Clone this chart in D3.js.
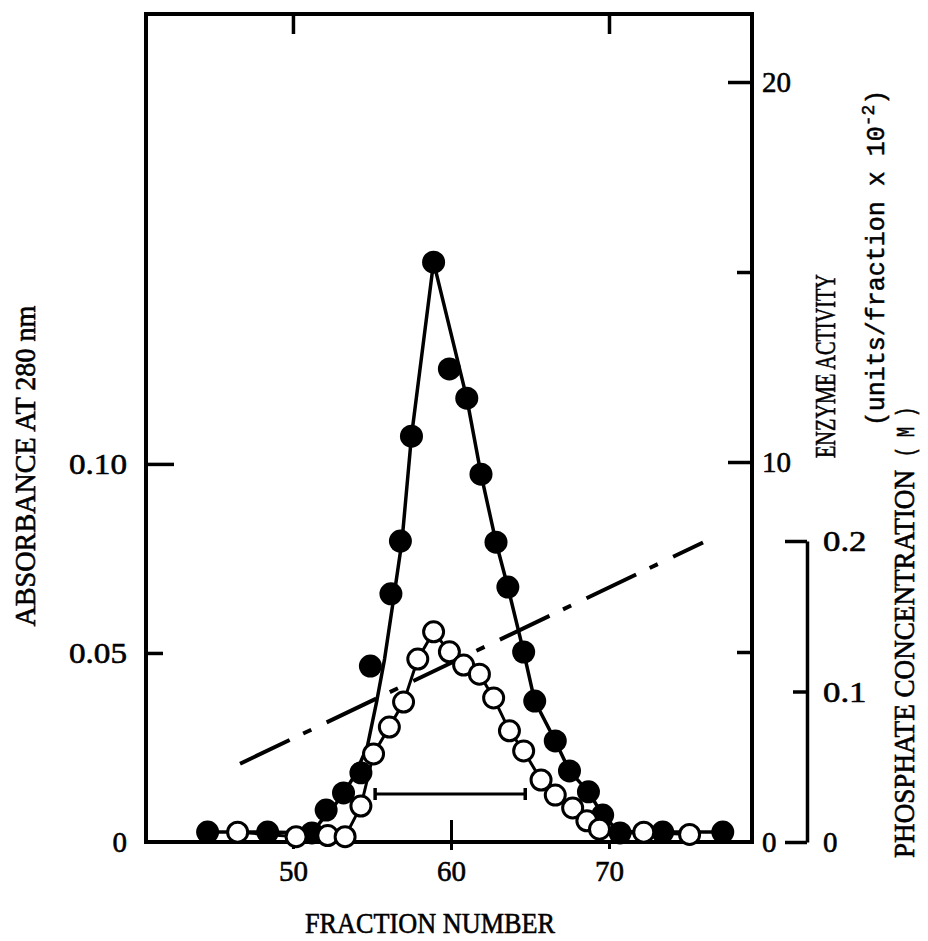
<!DOCTYPE html>
<html>
<head>
<meta charset="utf-8">
<script src="https://cdn.jsdelivr.net/npm/d3@7"></script>
<style>
body { margin: 0; background: #fff; }
svg { display: block; }
</style>
</head>
<body>
<section></section>
<script>
// Datos

// Circulos abiertos: absorbancia a 280 nm
var fraccionAbierta = [46.5, 50.2, 52.2, 53.3, 54.3, 55.1, 56.1, 57.0, 57.9, 58.9, 59.9, 60.8, 61.8, 62.7, 63.7, 64.6, 65.7, 66.6, 67.7, 68.6, 69.4, 72.2, 75.1]
var absorbancia = [0.0026, 0.0014, 0.0017, 0.0014, 0.0095, 0.0233, 0.0304, 0.0370, 0.0484, 0.0556, 0.0503, 0.0468, 0.0444, 0.0381, 0.0294, 0.0241, 0.0164, 0.0124, 0.0090, 0.0056, 0.0034, 0.0026, 0.0020]

// Circulos llenos: actividad enzimatica (units/fraction x 10^-2)
var fraccionLlena = [44.6, 48.4, 51.2, 52.1, 53.2, 54.3, 54.9, 56.2, 56.8, 57.5, 58.9, 59.9, 61.0, 61.9, 62.85, 63.6, 64.6, 65.3, 66.6, 67.5, 68.7, 69.6, 70.7, 73.4, 77.2]
var actividad = [0.26, 0.26, 0.24, 0.84, 1.29, 1.82, 4.63, 6.53, 7.92, 10.68, 15.26, 12.45, 11.68, 9.68, 7.89, 6.71, 5.0, 3.71, 2.66, 1.87, 1.32, 0.71, 0.24, 0.26, 0.26]

// Curva trazada a mano para la actividad
var curvaFraccion = [44.6, 48.4, 51.2, 52.1, 52.7, 53.2, 53.9, 54.7, 55.3, 55.8, 56.3, 56.9, 57.5, 58.9, 61.0, 61.9, 62.85, 63.6, 64.6, 65.3, 66.6, 67.5, 68.7, 69.6, 70.7, 73.4, 77.2]
var curvaActividad = [0.26, 0.26, 0.24, 0.72, 1.0, 1.28, 1.75, 2.5, 3.7, 4.82, 6.21, 7.92, 10.68, 15.26, 11.68, 9.68, 7.89, 6.71, 5.0, 3.71, 2.66, 1.87, 1.32, 0.71, 0.24, 0.26, 0.26]

// Gradiente de fosfato (M)
var fosfatoFraccion = [46.65, 75.95]
var fosfatoConc = [0.052, 0.199]

// Fracciones reunidas (barra horizontal)
var poolFraccion = [55.2, 64.7]
var poolNivel = 0.0127

// Ticks
var ticksX = [50, 60, 70]
var ticksAbs = [0, 0.05, 0.10]
var ticksEnz = [0, 5, 10, 15, 20]
var ticksFos = [0, 0.1, 0.2]

var width = 928
var height = 941

var margin = {
    top: 14,
    bottom: 99,
    left: 146,
    right: 176
}

var serif = "'Liberation Serif', 'Times New Roman', serif"
var mono = "'Liberation Mono', 'Courier New', monospace"

var lienzosvg = d3.select("section")
    .append("svg")
    .attr("width", width)
    .attr("height", height)

var escalaX = d3.scaleLinear()
    .domain([40.7, 79.05])
    .range([margin.left, width - margin.right])

var escalaAbs = d3.scaleLinear()
    .domain([0, 0.219])
    .range([height - margin.bottom, margin.top])

var escalaEnz = d3.scaleLinear()
    .domain([0, 21.79])
    .range([height - margin.bottom, margin.top])

var escalaFos = d3.scaleLinear()
    .domain([0, 0.2])
    .range([height - margin.bottom, 541])

var y0 = height - margin.bottom

// Apretar el texto como en la maquina de escribir original
function estiloTexto(sel, ancho) {
    sel.selectAll("text")
        .attr("fill", "#000")
        .attr("stroke", "#000")
        .attr("stroke-width", 0.6)
        .attr("textLength", function () { return this.textContent.length * ancho })
        .attr("lengthAdjust", "spacingAndGlyphs")
}

// Marco
lienzosvg.append("rect")
    .attr("x", escalaX.range()[0])
    .attr("y", margin.top)
    .attr("width", escalaX.range()[1] - escalaX.range()[0])
    .attr("height", y0 - margin.top)
    .attr("fill", "none")
    .attr("stroke", "#000")
    .attr("stroke-width", 4)

// Eje X abajo
var ejeX = lienzosvg.append("g")
    .attr("transform", "translate(0," + y0 + ")")
    .call(d3.axisBottom(escalaX).tickValues(ticksX).tickSizeInner(7).tickSizeOuter(0).tickPadding(11))
ejeX.select(".domain").remove()
ejeX.selectAll(".tick line")
    .attr("stroke-width", 3)
    .attr("y1", function (d) { return d === 60 ? -22 : 0 })
    .attr("y2", function (d) { return d === 60 ? 8 : 7 })
ejeX.attr("font-family", serif).attr("font-size", 30)
estiloTexto(ejeX, 14.5)

// Eje X arriba (solo marcas)
var ejeXarriba = lienzosvg.append("g")
    .attr("transform", "translate(0," + margin.top + ")")
    .call(d3.axisTop(escalaX).tickValues([50, 70]).tickSizeInner(-20).tickSizeOuter(0).tickFormat(""))
ejeXarriba.select(".domain").remove()
ejeXarriba.selectAll(".tick line").attr("stroke-width", 3.5)

// Eje izquierdo: absorbancia
var ejeAbs = lienzosvg.append("g")
    .attr("transform", "translate(" + margin.left + ",0)")
    .call(d3.axisLeft(escalaAbs).tickValues(ticksAbs).tickSizeInner(-28).tickSizeOuter(0).tickPadding(19)
        .tickFormat(function (d) { return d === 0 ? "0" : d3.format(".2f")(d) }))
ejeAbs.select(".domain").remove()
ejeAbs.selectAll(".tick line")
    .attr("stroke-width", 3.5)
    .attr("x2", function (d) { return d === 0.1 ? 28 : (d === 0 ? 0 : 17) })
ejeAbs.attr("font-family", serif).attr("font-size", 30)
estiloTexto(ejeAbs, 14.5)

// Eje derecho: actividad
var ejeEnz = lienzosvg.append("g")
    .attr("transform", "translate(" + escalaX.range()[1] + ",0)")
    .call(d3.axisRight(escalaEnz).tickValues(ticksEnz).tickSizeInner(-24).tickSizeOuter(0).tickPadding(10)
        .tickFormat(function (d) { return d % 10 === 0 ? d : "" }))
ejeEnz.select(".domain").remove()
ejeEnz.selectAll(".tick line")
    .attr("stroke-width", 3.5)
    .attr("x2", function (d) { return d === 0 ? 0 : (d % 10 === 0 ? -24 : -15) })
ejeEnz.attr("font-family", serif).attr("font-size", 30)
estiloTexto(ejeEnz, 14.5)

// Eje de fosfato
var ejeFos = lienzosvg.append("g")
    .attr("transform", "translate(807,0)")
    .call(d3.axisRight(escalaFos).tickValues(ticksFos).tickSizeInner(-22).tickSizeOuter(0).tickPadding(16)
        .tickFormat(function (d) { return d === 0 ? "0" : d3.format(".1f")(d) }))
ejeFos.select(".domain").attr("stroke-width", 3.5)
ejeFos.selectAll(".tick line")
    .attr("stroke-width", 3.5)
    .attr("x2", function (d) { return d === 0.1 ? -14 : -22 })
ejeFos.attr("font-family", serif).attr("font-size", 30)
estiloTexto(ejeFos, 14.5)

// Linea de gradiente de fosfato
lienzosvg.append("path")
    .datum(d3.zip(fosfatoFraccion, fosfatoConc))
    .attr("d", d3.line().x(function (d) { return escalaX(d[0]) }).y(function (d) { return escalaFos(d[1]) }))
    .attr("fill", "none")
    .attr("stroke", "#000")
    .attr("stroke-width", 4)
    .attr("stroke-dasharray", "55,15,9,17")

// Linea de absorbancia
var lineaAbs = d3.line()
    .x(function (d) { return escalaX(d[0]) })
    .y(function (d) { return escalaAbs(d[1]) })

lienzosvg.append("path")
    .datum(d3.zip(fraccionAbierta, absorbancia))
    .attr("d", lineaAbs)
    .attr("fill", "none")
    .attr("stroke", "#000")
    .attr("stroke-width", 3)

// Curva de actividad
var lineaEnz = d3.line()
    .x(function (d) { return escalaX(d[0]) })
    .y(function (d) { return escalaEnz(d[1]) })

lienzosvg.append("path")
    .datum(d3.zip(curvaFraccion, curvaActividad))
    .attr("d", lineaEnz)
    .attr("fill", "none")
    .attr("stroke", "#000")
    .attr("stroke-width", 3.5)
    .attr("stroke-linejoin", "round")

// Barra de fracciones reunidas
var yPool = escalaAbs(poolNivel)
lienzosvg.append("line")
    .attr("x1", escalaX(poolFraccion[0]))
    .attr("x2", escalaX(poolFraccion[1]))
    .attr("y1", yPool)
    .attr("y2", yPool)
    .attr("stroke", "#000")
    .attr("stroke-width", 3)
lienzosvg.selectAll(".tope")
    .data(poolFraccion)
    .enter()
    .append("line")
    .attr("x1", function (d) { return escalaX(d) })
    .attr("x2", function (d) { return escalaX(d) })
    .attr("y1", yPool - 6)
    .attr("y2", yPool + 6)
    .attr("stroke", "#000")
    .attr("stroke-width", 3.5)

// Puntos llenos
lienzosvg.selectAll(".lleno")
    .data(d3.zip(fraccionLlena, actividad))
    .enter()
    .append("circle")
    .attr("cx", function (d) { return escalaX(d[0]) })
    .attr("cy", function (d) { return escalaEnz(d[1]) })
    .attr("r", 11.5)
    .attr("fill", "#000")

// Puntos abiertos
lienzosvg.selectAll(".abierto")
    .data(d3.zip(fraccionAbierta, absorbancia))
    .enter()
    .append("circle")
    .attr("cx", function (d) { return escalaX(d[0]) })
    .attr("cy", function (d) { return escalaAbs(d[1]) })
    .attr("r", 10)
    .attr("fill", "#fff")
    .attr("stroke", "#000")
    .attr("stroke-width", 3)

// Titulos
function titulo(transform, ancla, fuente, tam, largo, texto) {
    return lienzosvg.append("text")
        .attr("transform", transform)
        .attr("text-anchor", ancla)
        .attr("font-family", fuente)
        .attr("font-size", tam)
        .attr("fill", "#000")
        .attr("stroke", "#000")
        .attr("stroke-width", 0.6)
        .attr("textLength", largo)
        .attr("lengthAdjust", "spacingAndGlyphs")
        .text(texto)
}

titulo("translate(430,933)", "middle", serif, 30, 250, "FRACTION NUMBER")
titulo("translate(35,466) rotate(-90)", "middle", serif, 29, 321, "ABSORBANCE AT 280 nm")
titulo("translate(835,366) rotate(-90)", "middle", serif, 29, 184, "ENZYME ACTIVITY")
titulo("translate(914,858) rotate(-90)", "start", serif, 29, 388, "PHOSPHATE CONCENTRATION")
titulo("translate(914,457) rotate(-90)", "start", mono, 26, 50, "( M )")

var unidades = lienzosvg.append("text")
    .attr("transform", "translate(884,258) rotate(-90)")
    .attr("text-anchor", "middle")
    .attr("font-family", mono)
    .attr("font-size", 25)
    .attr("fill", "#000")
    .attr("stroke", "#000")
    .attr("stroke-width", 0.5)
unidades.append("tspan").text("(units/fraction x 10")
unidades.append("tspan").attr("dy", -10).attr("font-size", 18).text("-2")
unidades.append("tspan").attr("dy", 10).text(")")
</script>
</body>
</html>
